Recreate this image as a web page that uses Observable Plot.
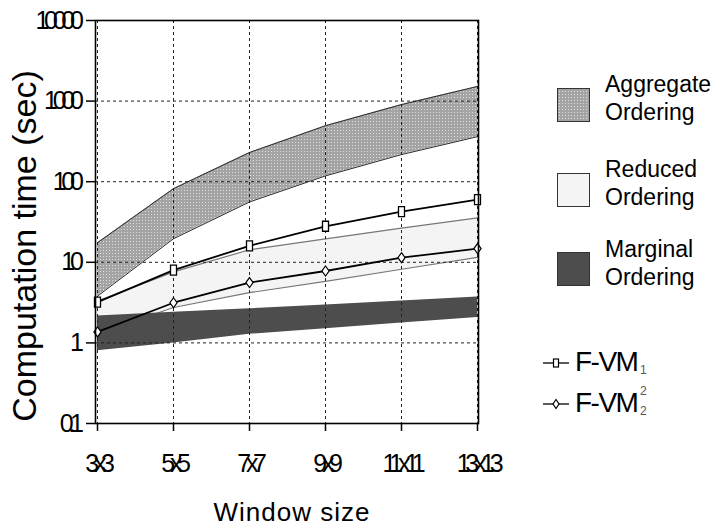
<!DOCTYPE html>
<html>
<head>
<meta charset="utf-8">
<script src="https://cdn.jsdelivr.net/npm/d3@7"></script>
<script src="https://cdn.jsdelivr.net/npm/@observablehq/plot@0.6"></script>
<style>
  html, body { margin: 0; padding: 0; background: #fff; }
  #wrap { position: relative; width: 717px; height: 529px; font-family: "Liberation Sans", Arial, sans-serif; color: #000; }
  #wrap svg.chart { position: absolute; left: 0; top: 0; }
  .chart g[aria-label="y-axis tick label"] text, .chart g[aria-label="x-axis tick label"] text { font-size: 25px; letter-spacing: -5.3px; }
  .chart g[aria-label="y-axis tick label"], .chart g[aria-label="x-axis tick label"] { font-size: 25px; }
  .abs { position: absolute; white-space: nowrap; }
  .ylab { left: 24px; top: 246px; font-size: 34px; line-height: 1; transform: translate(-50%, -50%) rotate(-90deg); }
  .xlab { left: 292px; top: 498px; font-size: 26px; letter-spacing: 1px; line-height: 29px; transform: translateX(-50%); }
  .legtxt { font-size: 23px; line-height: 28px; }
  .fvm { font-size: 28px; letter-spacing: -1.5px; line-height: 1; }
  .small { font-size: 12px; color: #555; line-height: 1; }
</style>
</head>
<body>
<div id="wrap"></div>
<script>
// ---- data ----
const windows = ["3x3", "5x5", "7x7", "9x9", "11x11", "13x13"];
const aggregateHigh = [17.5, 82, 230, 495, 905, 1520];
const aggregateLow  = [3.8, 19.6, 56, 118, 217, 362];
const reducedHigh   = [3.3, 7.6, 14.3, 19.5, 26.5, 35.5];
const reducedLow    = [1.3, 2.75, 4.2, 5.8, 8.2, 11.5];
const marginalHigh  = [2.15, 2.4, 2.65, 2.95, 3.3, 3.7];
const marginalLow   = [0.8, 1.0, 1.28, 1.5, 1.76, 2.06];
const fvm1 = [3.2, 8.0, 16, 28, 42.5, 60];
const fvm2 = [1.37, 3.15, 5.6, 7.8, 11.4, 14.8];
const yTicks = [0.1, 1, 10, 100, 1000, 10000];
const yTickLabels = ["0.1", "1", "10", "100", "1000", "10000"];

const rows = windows.map((w, i) => ({
  w,
  aggHi: aggregateHigh[i], aggLo: aggregateLow[i],
  redHi: reducedHigh[i], redLo: reducedLow[i],
  marHi: marginalHigh[i], marLo: marginalLow[i],
  f1: fvm1[i], f2: fvm2[i]
}));

const rectSym = { draw(ctx) { ctx.moveTo(-3, -5); ctx.lineTo(3, -5); ctx.lineTo(3, 5); ctx.lineTo(-3, 5); ctx.closePath(); } };
const diamSym = { draw(ctx) { ctx.moveTo(0, -5); ctx.lineTo(3.6, 0); ctx.lineTo(0, 5); ctx.lineTo(-3.6, 0); ctx.closePath(); } };

const grid = { stroke: "#222", strokeOpacity: 1, strokeWidth: 1, strokeDasharray: "3,3" };

const chart = Plot.plot({
  width: 717,
  height: 529,
  marginLeft: 95,
  marginRight: 239,
  marginTop: 20,
  marginBottom: 106,
  className: "chart",
  style: { fontFamily: "'Liberation Sans', Arial, sans-serif", background: "transparent", color: "#000", overflow: "visible" },
  x: { type: "point", domain: windows, padding: 0 },
  y: { type: "log", domain: [0.1, 10000] },
  marks: [
    Plot.areaY(rows, { x: "w", y1: "aggLo", y2: "aggHi", fill: "url(#dots)" }),
    Plot.lineY(rows, { x: "w", y: "aggHi", stroke: "#2a2a2a", strokeWidth: 1 }),
    Plot.lineY(rows, { x: "w", y: "aggLo", stroke: "#2a2a2a", strokeWidth: 1 }),
    Plot.areaY(rows, { x: "w", y1: "redLo", y2: "redHi", fill: "#f4f4f4" }),
    Plot.lineY(rows, { x: "w", y: "redHi", stroke: "#777", strokeWidth: 1.2 }),
    Plot.lineY(rows, { x: "w", y: "redLo", stroke: "#777", strokeWidth: 1.2 }),
    Plot.areaY(rows, { x: "w", y1: "marLo", y2: "marHi", fill: "#4d4d4d" }),
    Plot.gridX(windows, { x: d => d, ...grid }),
    Plot.gridY(yTicks, { y: d => d, ...grid }),
    Plot.lineY(rows, { x: "w", y: "f1", stroke: "#000", strokeWidth: 1.8 }),
    Plot.dot(rows, { x: "w", y: "f1", symbol: rectSym, fill: "#fff", stroke: "#000", strokeWidth: 1.3 }),
    Plot.lineY(rows, { x: "w", y: "f2", stroke: "#000", strokeWidth: 1.8 }),
    Plot.dot(rows, { x: "w", y: "f2", symbol: diamSym, fill: "#fff", stroke: "#000", strokeWidth: 1.2 }),
    Plot.frame({ stroke: "#000", strokeWidth: 1.6 }),
    Plot.axisY({ ticks: yTicks, tickFormat: d => yTickLabels[yTicks.indexOf(d)], tickSize: 9, tickPadding: 8, fontSize: 25, label: null, strokeWidth: 1.5 }),
    Plot.axisX({ ticks: windows, tickSize: 8, tickPadding: 23, fontSize: 25, label: null, strokeWidth: 1.5 })
  ]
});

d3.select(chart).insert("defs", ":first-child").html(
  '<pattern id="dots" width="3" height="3" patternUnits="userSpaceOnUse">' +
  '<rect width="3" height="3" fill="#a4a4a4"/><rect x="1" y="1" width="1" height="1" fill="#dedede"/></pattern>'
);

const wrap = document.getElementById("wrap");
wrap.appendChild(chart);

// axis titles
const yl = document.createElement("div");
yl.className = "abs ylab"; yl.textContent = "Computation time (sec)";
wrap.appendChild(yl);
const xl = document.createElement("div");
xl.className = "abs xlab"; xl.textContent = "Window size";
wrap.appendChild(xl);

// area legend
const areaLegend = [
  { top: 88, fill: "url(#dots2)", lines: ["Aggregate", "Ordering"], textTop: 70 },
  { top: 173, fill: "#f4f4f4", lines: ["Reduced", "Ordering"], textTop: 155 },
  { top: 252, fill: "#4d4d4d", lines: ["Marginal", "Ordering"], textTop: 235 }
];
const legSvg = d3.select(wrap).append("svg")
  .attr("width", 717).attr("height", 529)
  .style("position", "absolute").style("left", "0px").style("top", "0px");
legSvg.append("defs").html(
  '<pattern id="dots2" width="3" height="3" patternUnits="userSpaceOnUse">' +
  '<rect width="3" height="3" fill="#a4a4a4"/><rect x="1" y="1" width="1" height="1" fill="#dedede"/></pattern>'
);
areaLegend.forEach(d => {
  legSvg.append("rect").attr("x", 557.5).attr("y", d.top + 0.5).attr("width", 32).attr("height", 33)
    .attr("fill", d.fill).attr("stroke", "#333").attr("stroke-width", 1);
  const t = document.createElement("div");
  t.className = "abs legtxt";
  t.style.left = "605px"; t.style.top = d.textTop + "px";
  t.innerHTML = d.lines.join("<br>");
  wrap.appendChild(t);
});

// line legend
const lineLegend = [
  { y: 363, sym: "rect", base: 373, sub: "1", sup: null },
  { y: 404, sym: "diam", base: 414, sub: "2", sup: "2" }
];
lineLegend.forEach(d => {
  legSvg.append("line").attr("x1", 543).attr("x2", 569).attr("y1", d.y).attr("y2", d.y)
    .attr("stroke", "#000").attr("stroke-width", 1.3);
  if (d.sym === "rect") {
    legSvg.append("rect").attr("x", 553.5).attr("y", d.y - 4).attr("width", 5).attr("height", 8)
      .attr("fill", "#fff").attr("stroke", "#000").attr("stroke-width", 1.2);
  } else {
    legSvg.append("path").attr("d", `M556,${d.y - 4.5}L559,${d.y}L556,${d.y + 4.5}L553,${d.y}Z`)
      .attr("fill", "#fff").attr("stroke", "#000").attr("stroke-width", 1.2);
  }
  const t = document.createElement("div");
  t.className = "abs fvm";
  t.style.left = "575px"; t.style.top = (d.base - 25) + "px";
  t.textContent = "F-VM";
  wrap.appendChild(t);
  const s = document.createElement("div");
  s.className = "abs small";
  s.style.left = "640px"; s.style.top = (d.base - 9) + "px";
  s.textContent = d.sub;
  wrap.appendChild(s);
  if (d.sup) {
    const p = document.createElement("div");
    p.className = "abs small";
    p.style.left = "640px"; p.style.top = (d.base - 29) + "px";
    p.textContent = d.sup;
    wrap.appendChild(p);
  }
});
</script>
</body>
</html>
